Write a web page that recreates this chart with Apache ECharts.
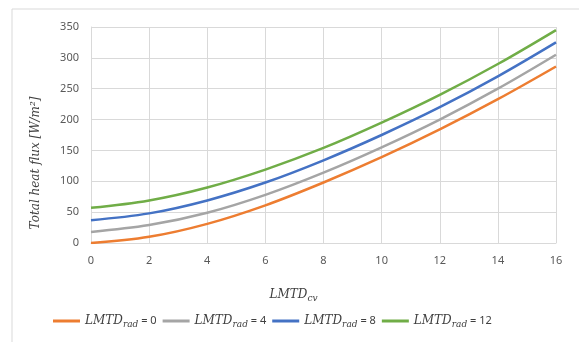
<!DOCTYPE html>
<html>
<head>
<meta charset="utf-8">
<script src="https://cdn.jsdelivr.net/npm/echarts@6/dist/echarts.min.js"></script>
<style>
  html, body { margin: 0; padding: 0; background: #fff; }
  #main { width: 579px; height: 342px; }
</style>
</head>
<body>
<div id="main"></div>
<script>
    // LMTD_cv values along the x axis
    var lmtdCv = [0, 2, 4, 6, 8, 10, 12, 14, 16];
    // total heat flux for each LMTD_rad
    var rad0 = [0, 10, 31, 61, 98, 139, 184, 233, 286];
    var rad4 = [18, 29, 49, 78, 114, 155, 200, 250, 305];
    var rad8 = [37, 48, 69, 98, 134, 175, 220, 270, 325];
    var rad12 = [57, 69, 90, 119, 154, 195, 240, 290, 345];
    var radLabels = ['0', '4', '8', '12'];
    var colors = ['#ED7D31', '#A5A5A5', '#4472C4', '#70AD47'];

    var serif = 'DejaVu Serif';
    var myChart = echarts.init(document.getElementById('main'));

    function pairs(ys) {
        return lmtdCv.map(function (x, i) { return [x, ys[i]]; });
    }

    var allSeries = [rad0, rad4, rad8, rad12].map(function (ys, i) {
        return {
            name: 'rad' + radLabels[i],
            type: 'line',
            smooth: 0.35,
            showSymbol: false,
            data: pairs(ys),
            lineStyle: { width: 2.5, color: colors[i] },
            itemStyle: { color: colors[i] }
        };
    });

    myChart.setOption({
        animation: false,
        grid: { left: 91, right: 23, top: 27, bottom: 99 },
        graphic: [
            {
                type: 'rect',
                shape: { x: 12, y: 9, width: 600, height: 400 },
                style: { fill: 'none', stroke: '#d9d9d9', lineWidth: 1 }
            },
            {
                type: 'text',
                x: 36,
                y: 163,
                rotation: Math.PI / 2,
                style: {
                    text: 'Total heat flux [W/m²]',
                    font: 'italic 12px "DejaVu Serif"',
                    fill: '#404040',
                    align: 'center',
                    verticalAlign: 'middle'
                }
            }
        ],
        legend: {
            bottom: 8,
            left: 48,
            itemWidth: 27,
            itemHeight: 3,
            itemGap: 6,
            icon: 'rect',
            data: allSeries.map(function (s) { return s.name; }),
            formatter: function (name) {
                return '{m|LMTD}{s|rad}{n| = ' + name.slice(3) + '}';
            },
            textStyle: {
                rich: {
                    m: { fontFamily: serif, fontStyle: 'italic', fontSize: 12, color: '#404040' },
                    s: { fontFamily: serif, fontStyle: 'italic', fontSize: 9, color: '#404040', padding: [7, 0, 0, 0] },
                    n: { fontFamily: 'Noto Sans', fontSize: 11, color: '#404040' }
                }
            }
        },
        xAxis: {
            type: 'value',
            min: 0,
            max: 16,
            interval: 2,
            name: '{m|LMTD}{s|cv}',
            nameLocation: 'middle',
            nameGap: 44,
            nameTextStyle: {
                padding: [0, 60, 0, 0],
                fontSize: 12,
                rich: {
                    m: { fontFamily: serif, fontStyle: 'italic', fontSize: 12, color: '#404040' },
                    s: { fontFamily: serif, fontStyle: 'italic', fontSize: 9, color: '#404040', padding: [7, 0, 0, 0] }
                }
            },
            axisLine: { lineStyle: { color: '#d9d9d9' } },
            axisTick: { show: false },
            axisLabel: { color: '#595959', fontFamily: 'Noto Sans', fontSize: 11, margin: 12 },
            splitLine: { show: true, lineStyle: { color: '#d9d9d9' } }
        },
        yAxis: {
            type: 'value',
            min: 0,
            max: 350,
            interval: 50,
            axisLine: { show: true, lineStyle: { color: '#d9d9d9' } },
            axisTick: { show: false },
            axisLabel: { color: '#595959', fontFamily: 'Noto Sans', fontSize: 11, margin: 12 },
            splitLine: { show: true, lineStyle: { color: '#d9d9d9' } }
        },
        series: allSeries
    });
</script>
</body>
</html>
